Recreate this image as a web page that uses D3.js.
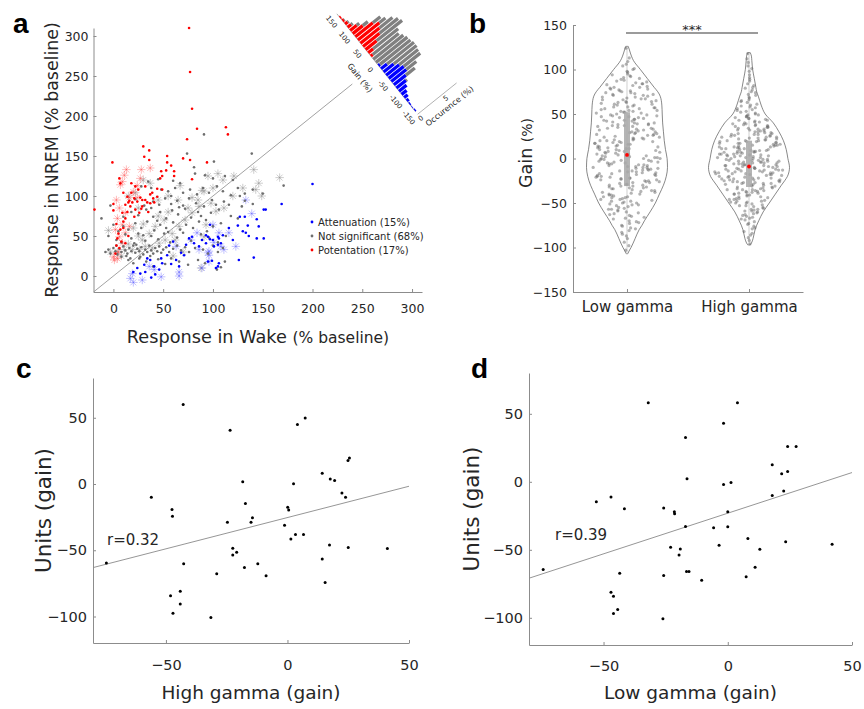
<!DOCTYPE html>
<html>
<head>
<meta charset="UTF-8">
<title>Gain figure</title>
<script src="https://cdn.jsdelivr.net/npm/d3@7"></script>
<style>
  body { margin: 0; background: #fff; }
  svg { font-family: "DejaVu Sans", sans-serif; }
</style>
</head>
<body>
<svg id="fig" width="864" height="709"></svg>
<script>

// ---------- panel a : wake vs NREM responses (% baseline) ----------
var aTicks = [0, 50, 100, 150, 200, 250, 300];

var potDots = [[76,310],[77,255],[79,209],[84,184],[74,171],[113,186],[115,177],[30,162],[36,157],[31,149],[36,145],[-1,142],
  [70,147],[77,145],[54,150],[54,142],[58,138],[48,131],[61,131],[53,132],[47,122],[49,125],[61,125],[79,121],[94,142],
  [6,122],[7,116],[18,116],[44,109],[49,108],[39,104],[37,102],[0,90],[14,99],[16,94],[19,92],[21,97],[27,98],[29,95],
  [32,95],[34,92],[37,91],[41,92],[44,99],[12,89],[17,87],[22,83],[26,79],[21,74],[15,92],[9,79],[24,93],[29,87],[12,72],
  [7,58],[4,47],[12,41],[2,28],[6,35],[-19,83],[0,82],[3,65],[10,68],[14,80],[18,104],[25,108],[32,112],[28,84],[35,80],
  [40,97],[10,60],[5,53],[8,43],[15,50],[3,38],[22,112],[10,104]];
var potStars = [[13,133],[28,133],[37,135],[11,126],[9,118],[7,114],[24,113],[27,122],[16,98],[24,98],[4,72],[9,64],[6,49],
  [12,54],[9,41],[1,20],[4,22],[16,62],[6,85],[12,79],[3,95],[20,105],[2,58],[5,30],[0,24]];
var nsDots = [[91,177],[74,153],[139,153],[101,143],[81,136],[171,113],[127,100],[-12,72],
  [35,118],[45,121],[60,119],[67,116],[82,128],[92,126],[100,122],[112,125],[120,120],
  [28,112],[38,110],[48,108],[55,106],[62,110],[70,104],[77,108],[84,102],[90,110],[96,104],[104,112],[110,106],[118,101],
  [125,110],[132,103],[140,108],[150,103],
  [22,96],[31,88],[40,93],[46,89],[52,97],[58,90],[64,94],[70,88],[76,97],[83,91],[91,87],[99,95],[103,89],[111,93],
  [116,89],[129,87],[132,94],[140,90],[58,100],[66,86],[-3,88],
  [18,80],[25,76],[33,83],[40,74],[47,80],[53,72],[59,82],[65,77],[72,84],[78,73],[85,80],[93,70],[98,79],[106,83],
  [118,75],[125,72],[10,74],[38,85],[88,75],
  [10,62],[15,58],[22,66],[28,60],[34,68],[41,57],[47,64],[53,60],[60,67],[67,58],[73,64],[80,60],[86,68],[94,56],
  [100,62],[108,66],[0,64],[5,56],[44,69],[55,55],
  [-5,50],[3,45],[12,52],[18,47],[25,53],[32,44],[38,50],[45,46],[51,53],[57,42],[64,48],[70,54],[78,44],[88,52],
  [96,48],[105,42],[113,50],[8,42],[21,41],[30,51],
  [-8,30],[-5,33],[-3,28],[0,35],[2,31],[4,27],[6,34],[8,30],[10,37],[12,32],[14,28],[16,35],[18,31],[20,38],[22,29],
  [24,34],[26,31],[28,36],[30,27],[32,33],[34,30],[36,38],[38,32],[40,28],[42,35],[44,31],[46,37],[48,29],[50,33],
  [53,36],[56,30],[60,34],[64,38],[68,32],[72,36],[76,30],[82,35],[90,33],[95,28],[100,38],[105,30],[110,35],[3,38],
  [13,25],[27,24],[37,25],[17,22],[23,39],
  [15,20],[20,16],[26,22],[33,18],[45,21],[52,15],[58,22],[66,18],[75,14],[85,20],[104,8],[108,11],[112,18],[92,16],
  [8,24],[40,12]];
var nsStars = [[-5,57],[-3,30],[4,30],[11,33],[19,33],[26,33],[32,37],[39,35],[46,41],[52,45],[59,53],[66,62],[72,70],
  [79,79],[86,87],[36,53],[42,62],[51,70],[29,45],[62,45],[37,116],[67,113],[89,107],[79,98],[91,106],[98,91],[103,81],
  [93,64],[111,85],[91,49],[141,133],[167,123],[146,116],[149,100],[143,108],[121,125],[110,120],[100,110],[120,100],
  [130,110],[30,120],[22,104],[15,100],[25,85],[45,95],[55,100],[65,95],[75,85],[85,95],[20,60],[30,65],[45,75],[55,80],
  [95,125],[105,128],[88,10],[60,25],[70,30],[15,40],[25,50],[8,25]];
var attDots = [[200,115],[169,90],[151,83],[153,83],[127,74],[132,74],[144,71],[125,63],[135,63],[146,62],[130,56],
  [133,54],[136,50],[144,47],[151,47],[97,64],[126,20],[141,23],[95,49],[97,46],[100,45],[105,49],[106,47],[110,51],
  [108,41],[101,37],[105,39],[93,41],[95,18],[99,19],[106,16],[105,12],[103,10],[24,10],[31,14],[34,22],[37,20],[32,5],
  [46,8],[41,12],[49,16],[54,26],[68,29],[73,39],[76,47],[79,49],[81,41],[89,45],[93,51],[86,37],[71,26],[63,20],[27,3],
  [20,5],[38,-2],[42,2],[48,22],[58,15],[66,12],[60,43],[56,38],[116,60],[120,45]];
var attStars = [[17,-3],[29,-5],[48,-1],[66,5],[89,10],[36,12],[19,3],[41,8],[86,33],[96,26],[63,37],[78,45],[84,54],
  [139,78],[116,54],[123,37],[106,54],[100,64],[101,42],[96,31],[95,29],[96,18],[108,37],[111,33],[133,95],[20,-8],[66,0]];
var legendA = ['Attenuation (15%)', 'Not significant (68%)', 'Potentation (17%)'];

// inset histogram of gain (%), bins of 10, occurrence (%)
var gainBins = [145,135,125,115,105,95,85,75,65,55,45,35,25,15,5,-5,-15,-25,-35,-45,-55,-65,-75,-85,-95,-105,-115,-125,-135,-145];
var occRed   = [0.2,0.3,0.5,0.7,1.3,2.0,3.5,4.3,3.8,3.3,2.2,1.0,0.4,0,0,0,0,0,0,0,0,0,0,0,0,0,0,0,0,0];
var occBlue  = [0,0,0,0,0,0,0,0,0,0,0,0,0,0,0,0.3,1.2,2.0,2.6,3.0,3.0,2.4,1.9,1.5,1.0,0.7,0.4,0.2,0.1,0.2];
var occGray  = [0,0.1,0.2,0.3,0.5,1.0,1.5,1.2,2.6,3.7,5.1,5.0,5.2,6.0,6.3,6.1,5.4,4.6,3.8,3.3,2.0,1.8,0.2,0,0,0,0,0,0,0];
var gainTicks = [150, 100, 50, 0, -50, -100, -150];

// ---------- panel b : violins ----------
var categories = ['Low gamma', 'High gamma'];
var bTicks = [-150, -100, -50, 0, 50, 100, 150];
var lowGamma = [124,
  113,109,106,
  104,101,100,98,97,95,
  94,93,92,91,90,89,88,87,86,85,
  84,84,83,82,81,80,80,79,78,78,77,76,76,75,
  74,74,73,72,72,71,71,70,69,69,68,67,67,66,66,65,
  64,64,63,63,62,61,61,60,60,59,58,58,57,57,56,56,55,
  54,54,53,53,52,52,51,51,50,49,49,48,48,47,47,46,46,45,
  44,44,43,43,42,42,41,40,40,39,39,38,38,37,37,36,36,35,
  34,34,33,33,32,32,31,30,30,29,29,28,28,27,27,26,26,25,
  24,24,23,23,22,22,21,21,20,20,19,19,18,18,17,17,16,16,15,
  14,14,13,13,12,12,11,11,10,10,9,9,8,8,7,7,6,6,5,5,
  4,4,3,3,2,2,1,1,0,0,0,-1,-1,-2,-2,-3,-3,-4,-4,-5,-5,
  -6,-6,-7,-7,-8,-8,-9,-9,-10,-10,-10,-11,-11,-12,-12,-13,-13,-14,-14,-15,-15,
  -16,-16,-17,-17,-18,-18,-19,-19,-20,-20,-21,-21,-22,-22,-23,-23,-24,-24,-25,-25,
  -26,-26,-27,-27,-28,-29,-29,-30,-30,-31,-31,-32,-32,-33,-33,-34,-34,-35,
  -36,-36,-37,-38,-38,-39,-40,-40,-41,-41,-42,-43,-43,-44,-44,-45,
  -46,-46,-47,-48,-48,-49,-50,-50,-51,-52,-52,-53,-54,-55,
  -56,-57,-57,-58,-59,-60,-61,-62,-63,-64,-65,
  -66,-67,-68,-70,-71,-72,-73,-75,
  -76,-78,-79,-81,-83,-85,
  -87,-90,-94,
  -98,-103];
var highGamma = [118,112,
  108,104,101,
  98,94,91,
  89,87,84,82,80,
  79,77,75,74,72,71,
  69,68,66,65,64,63,61,60,
  59,58,57,56,55,54,53,52,51,50,
  49,49,48,47,47,46,45,45,44,43,43,42,41,41,40,
  39,39,38,38,37,37,36,36,35,35,34,34,33,33,32,32,31,31,30,30,
  29,29,28,28,27,27,27,26,26,25,25,24,24,24,23,23,22,22,21,21,20,20,20,
  19,19,19,18,18,17,17,17,16,16,15,15,15,14,14,13,13,13,12,12,11,11,11,10,10,
  9,9,9,8,8,8,7,7,7,6,6,5,5,5,4,4,4,3,3,3,2,2,1,1,1,0,0,
  -1,-1,-1,-2,-2,-2,-3,-3,-3,-4,-4,-4,-5,-5,-5,-6,-6,-6,-7,-7,-7,-8,-8,-8,-9,-9,-9,-10,
  -10,-11,-11,-11,-12,-12,-12,-13,-13,-13,-14,-14,-14,-15,-15,-15,-16,-16,-16,-17,-17,-17,-18,-18,-18,-19,-19,-20,
  -20,-21,-21,-22,-22,-22,-23,-23,-24,-24,-24,-25,-25,-26,-26,-26,-27,-27,-28,-28,-28,-29,-29,-30,-30,
  -31,-31,-32,-32,-33,-33,-34,-34,-35,-35,-35,-36,-36,-37,-37,-38,-38,-39,-39,-40,-40,
  -41,-41,-42,-43,-43,-44,-45,-45,-46,-46,-47,-48,-48,-49,-49,-50,-50,
  -51,-52,-53,-53,-54,-55,-56,-57,-57,-58,-59,-59,-60,
  -61,-62,-63,-64,-65,-66,-67,-68,-69,
  -71,-73,-74,-76,-78,-79,
  -82,-84,-86,-89,
  -92,-96];
// violin outlines: [gain, relative density]
var lowProfile = [[126,0.03],[122,0.06],[115,0.11],[110,0.16],[100,0.33],[90,0.5],[80,0.67],[75,0.76],[70,0.82],[60,0.86],
  [50,0.87],[40,0.88],[30,0.9],[20,0.92],[10,0.95],[0,0.99],[-10,1.0],[-20,0.97],[-25,0.94],[-30,0.9],[-40,0.8],[-50,0.7],
  [-60,0.57],[-70,0.43],[-75,0.37],[-80,0.3],[-90,0.2],[-100,0.1],[-104,0.05],[-107,0.02]];
var highProfile = [[119,0.03],[115,0.06],[110,0.07],[100,0.09],[90,0.13],[80,0.17],[75,0.19],[70,0.23],[60,0.3],[50,0.4],
  [40,0.6],[30,0.74],[25,0.8],[20,0.85],[10,0.92],[0,0.96],[-10,1.0],[-20,0.95],[-25,0.88],[-30,0.8],[-40,0.65],[-50,0.5],
  [-60,0.35],[-70,0.24],[-75,0.19],[-80,0.15],[-90,0.1],[-95,0.06],[-97,0.03]];
var boxLow = { q1: -31, q3: 52, median: 4, min: -107, max: 126 };
var boxHigh = { q1: -32, q3: 20, median: -9, min: -97, max: 119 };

// ---------- panels c, d : unit gain vs LFP gain ----------
var cdXTicks = [-50, 0, 50];
var cdYTicks = [-100, -50, 0, 50];
var highVsUnits = [[-42.9,60],[-23.6,40.6],[4.1,45],[7.3,49.9],[25.5,19.7],[24.9,17.7],[14.3,8.2],[17.6,3.7],[19.4,2.7],
  [-18.4,1.7],[2.5,0.2],[-56,-10],[22.4,-6.7],[23.9,-10],[-47.5,-19.2],[-47.3,-24.4],[-17.3,-14.7],[0.1,-17.5],[0.5,-19.7],
  [-14.4,-25.4],[-15,-28.9],[-24.7,-28.9],[-1.2,-31.2],[3.3,-38.2],[6.6,-38.2],[1.4,-41.6],[17.3,-46.1],[25,-47.9],
  [41.1,-48.6],[-22.5,-48.4],[-22.5,-53.6],[-20.9,-51.6],[-74.5,-59.6],[-42.7,-60.1],[-12.2,-60.1],[14.3,-56.6],
  [-29.1,-67.8],[-17.7,-63.1],[-8.8,-69.3],[15.5,-74.3],[-48.1,-84.3],[-44.1,-81],[-44.1,-90.5],[-47.1,-97.5],[-31.5,-100.7]];
var lowVsUnits = [[-32,58.2],[3.9,58.2],[-1.7,43],[-17,32.5],[24.1,25.9],[27.5,25.9],[17.9,12.5],[21.7,5.9],[24.1,7.6],
  [-16.4,2.2],[-1.7,-2],[1.3,-0.5],[17.9,-10],[22.5,-6.8],[-47,-11.2],[-52.9,-14.7],[-41.6,-19.8],[-25.8,-19.3],[-21.5,-22],
  [-21.4,-23.5],[0,-22],[-17,-32.8],[-5.7,-33.7],[0,-33],[-23,-48.2],[-19.1,-49.4],[-19.6,-53.8],[-3.5,-46.7],[8.1,-41.6],
  [12.9,-49.6],[23.3,-44],[42,-46],[-74.3,-64.5],[-43.5,-67.2],[-25.8,-68.9],[-16.6,-66],[-15.6,-66],[-10.5,-72.4],
  [7.4,-69.9],[11,-62.8],[-47,-81.2],[-46,-84.1],[-44.3,-93.9],[-46,-96.8],[-26.1,-100.7]];
var fitHigh = [[-80,-63.1],[50,-1.7]];
var fitLow = [[-80,-70.9],[50,6.8]];
var rHigh = 'r=0.32';
var rLow = 'r=0.39';


var svg = d3.select('#fig');
var axisGray = '#8c8c8c';
var txt = '#262626';

function styleAxis(g, fs) {
  g.attr('font-family', null).attr('font-size', null);
  g.select('.domain').attr('stroke', axisGray).attr('stroke-width', 1);
  g.selectAll('.tick line').attr('stroke', axisGray);
  g.selectAll('.tick text').attr('fill', txt).style('font-size', fs + 'px');
}

function star(r) {
  var a = r * 0.707;
  return 'M0,' + (-r) + 'V' + r + 'M' + (-r) + ',0H' + r +
         'M' + (-a) + ',' + (-a) + 'L' + a + ',' + a + 'M' + (-a) + ',' + a + 'L' + a + ',' + (-a);
}

// panel letters
[['a', 13, 33], ['b', 469, 33], ['c', 16, 378], ['d', 471, 378]].forEach(function (l) {
  svg.append('text').attr('x', l[1]).attr('y', l[2]).text(l[0])
    .style('font-family', '"Liberation Sans", Arial, sans-serif')
    .style('font-weight', 'bold').style('font-size', '28px').attr('fill', '#000');
});

// ================= panel a =================
var xA = d3.scaleLinear().domain([-20, 310]).range([93.5, 422]);
var yA = d3.scaleLinear().domain([-20, 310]).range([292, 28]);
var gA = svg.append('g');

gA.append('g').attr('transform', 'translate(0,292)')
  .call(d3.axisBottom(xA).tickValues(aTicks).tickSizeInner(-3).tickSizeOuter(0).tickPadding(12))
  .call(styleAxis, 12.5);
gA.append('g').attr('transform', 'translate(93.5,0)')
  .call(d3.axisLeft(yA).tickValues(aTicks).tickSizeInner(-3).tickSizeOuter(0).tickPadding(5))
  .call(styleAxis, 12.5);

// identity line
gA.append('line')
  .attr('x1', xA(-20)).attr('y1', yA(-20)).attr('x2', xA(240)).attr('y2', yA(240))
  .attr('stroke', '#8a8a8a').attr('stroke-width', 0.8);

function drawStars(data, col, op) {
  gA.append('g').selectAll('path').data(data).enter().append('path')
    .attr('transform', function (d) { return 'translate(' + xA(d[0]) + ',' + yA(d[1]) + ')'; })
    .attr('d', star(4.2)).attr('fill', 'none').attr('stroke', col)
    .attr('stroke-width', 0.8).attr('stroke-opacity', op);
}
function drawDots(data, col) {
  gA.append('g').selectAll('circle').data(data).enter().append('circle')
    .attr('cx', function (d) { return xA(d[0]); }).attr('cy', function (d) { return yA(d[1]); })
    .attr('r', 1.3).attr('fill', col);
}
drawStars(nsStars, '#8c8c8c', 0.55);
drawStars(attStars, '#3b3bff', 0.4);
drawStars(potStars, '#ff2a2a', 0.4);
drawDots(nsDots, '#6e6e6e');
drawDots(attDots, '#0000ff');
drawDots(potDots, '#ff0000');

// legend
var legCols = ['#0000ff', '#6e6e6e', '#ff0000'];
legendA.forEach(function (s, i) {
  var y = 222 + i * 14;
  gA.append('circle').attr('cx', 312).attr('cy', y).attr('r', 1.4).attr('fill', legCols[i]);
  gA.append('text').attr('x', 318).attr('y', y + 3.6).text(s)
    .style('font-size', '10px').attr('fill', txt);
});

// axis titles
gA.append('text').attr('transform', 'translate(58,160) rotate(-90)').attr('text-anchor', 'middle')
  .style('font-size', '17.4px').attr('fill', txt).text('Response in NREM (% baseline)');
var wl = gA.append('text').attr('x', 258).attr('y', 343).attr('text-anchor', 'middle').attr('fill', txt);
wl.append('tspan').style('font-size', '17.7px').text('Response in Wake ');
wl.append('tspan').style('font-size', '15.5px').text('(% baseline)');

// inset histogram, gain axis perpendicular to the identity line
var angA = Math.atan2(yA(1) - yA(0), xA(1) - xA(0)) * 180 / Math.PI;
var gIn = gA.append('g')
  .attr('transform', 'translate(' + xA(265) + ',' + yA(265) + ') rotate(' + angA + ')');
var gainY = d3.scaleLinear().domain([-150, 150]).range([61.5, -61.5]);
var occX = d3.scaleLinear().domain([0, 5]).range([0, 32]);
var binH = Math.abs(gainY(10) - gainY(0));

gIn.append('line').attr('x1', 0).attr('x2', 0).attr('y1', gainY(157)).attr('y2', gainY(-150))
  .attr('stroke', '#9a9a9a').attr('stroke-width', 0.7);
gainBins.forEach(function (g, i) {
  var c = occRed[i] + occBlue[i];
  var col = occRed[i] > 0 ? '#ff0000' : '#0000ff';
  var y = gainY(g) - binH * 0.4;
  if (c > 0) {
    gIn.append('rect').attr('x', 0).attr('y', y).attr('width', occX(c)).attr('height', binH * 0.8).attr('fill', col);
  }
  if (occGray[i] > 0) {
    gIn.append('rect').attr('x', occX(c)).attr('y', y).attr('width', occX(occGray[i])).attr('height', binH * 0.8)
      .attr('fill', '#808080');
  }
});
gainTicks.forEach(function (g) {
  gIn.append('text').attr('transform', 'translate(-9,' + gainY(g) + ') rotate(90)')
    .attr('text-anchor', 'middle').attr('dy', '0.35em')
    .style('font-size', '7px').attr('fill', txt).text(g);
});
gIn.append('text').attr('transform', 'translate(-22,' + gainY(0) + ') rotate(90)')
  .attr('text-anchor', 'middle').attr('dy', '0.35em')
  .style('font-size', '8px').attr('fill', txt).text('Gain (%)');
gIn.append('line').attr('x1', 0).attr('x2', 50).attr('y1', 64.5).attr('y2', 64.5)
  .attr('stroke', '#9a9a9a').attr('stroke-width', 0.7);
[0, 5].forEach(function (v) {
  gIn.append('text').attr('x', occX(v)).attr('y', 72).attr('text-anchor', 'middle')
    .style('font-size', '7px').attr('fill', txt).text(v);
});
gIn.append('text').attr('x', 30).attr('y', 81).attr('text-anchor', 'middle')
  .style('font-size', '8px').attr('fill', txt).text('Occurence (%)');

// ================= panel b =================
var xB = d3.scaleLinear().domain([0.5574, 2.4426]).range([573, 803]);
var yB = d3.scaleLinear().domain([-150, 150]).range([292, 25]);
var wB = d3.scaleLinear().domain([0, 1]).range([0, 40.5]);
var gB = svg.append('g');

gB.append('g').attr('transform', 'translate(0,292)')
  .call(d3.axisBottom(xB).tickValues([1, 2]).tickFormat(function (d) { return categories[d - 1]; })
    .tickSizeInner(-3).tickSizeOuter(0).tickPadding(9))
  .call(styleAxis, 15);
gB.append('g').attr('transform', 'translate(573,0)')
  .call(d3.axisLeft(yB).tickValues(bTicks).tickSizeInner(-3).tickSizeOuter(0).tickPadding(6))
  .call(styleAxis, 12.5);

function jit(i, s) {
  var v = Math.sin(i * 12.9898 + s * 78.233) * 43758.5453;
  return (v - Math.floor(v)) * 2 - 1;
}

function violin(vals, prof, box, pos, seed) {
  var cx = xB(pos);
  var dens = d3.scaleLinear().domain(prof.map(function (d) { return d[0]; }))
    .range(prof.map(function (d) { return d[1]; })).clamp(true);
  var area = d3.area()
    .y(function (d) { return yB(d[0]); })
    .x0(function (d) { return cx - wB(d[1]); })
    .x1(function (d) { return cx + wB(d[1]); })
    .curve(d3.curveMonotoneY);
  gB.append('path').datum(prof).attr('d', area)
    .attr('fill', '#fff').attr('stroke', '#555').attr('stroke-width', 0.7);
  gB.append('line').attr('x1', cx).attr('x2', cx).attr('y1', yB(box.max)).attr('y2', yB(box.min))
    .attr('stroke', '#d0d0d0').attr('stroke-width', 1);
  gB.append('g').selectAll('circle').data(vals).enter().append('circle')
    .attr('cx', function (d, i) { return cx + jit(i, seed) * wB(dens(d)) * 0.88; })
    .attr('cy', function (d) { return yB(d); })
    .attr('r', 1.6).attr('fill', '#6a6a6a').attr('fill-opacity', 0.5);
  gB.append('rect').attr('x', cx - 3).attr('width', 6)
    .attr('y', yB(box.q3)).attr('height', yB(box.q1) - yB(box.q3))
    .attr('fill', '#a8a8a8').attr('fill-opacity', 0.85);
  gB.append('circle').attr('cx', cx).attr('cy', yB(box.median)).attr('r', 1.9).attr('fill', '#ff0000');
}
violin(lowGamma, lowProfile, boxLow, 1, 1);
violin(highGamma, highProfile, boxHigh, 2, 2);

// significance bar
gB.append('line').attr('x1', 626).attr('x2', 758).attr('y1', 33).attr('y2', 33)
  .attr('stroke', '#7a7a7a').attr('stroke-width', 1.4);
gB.append('text').attr('x', 692).attr('y', 33.5).attr('text-anchor', 'middle')
  .style('font-size', '13px').attr('fill', txt).text('***');

var gl = gB.append('text').attr('transform', 'translate(532,153) rotate(-90)').attr('text-anchor', 'middle')
  .attr('fill', txt);
gl.append('tspan').style('font-size', '17.5px').text('Gain ');
gl.append('tspan').style('font-size', '14px').text('(%)');

// ================= panels c, d =================
function corrPanel(opt) {
  var x = d3.scaleLinear().domain([-80, 50]).range(opt.xr);
  var y = d3.scaleLinear().domain([-120, 80]).range(opt.yr);
  var g = svg.append('g');
  g.append('g').attr('transform', 'translate(0,' + opt.yr[0] + ')')
    .call(d3.axisBottom(x).tickValues(cdXTicks).tickSizeInner(-3).tickSizeOuter(0).tickPadding(opt.xpad))
    .call(styleAxis, 14.5);
  g.append('g').attr('transform', 'translate(' + opt.xr[0] + ',0)')
    .call(d3.axisLeft(y).tickValues(cdYTicks).tickSizeInner(-3).tickSizeOuter(0).tickPadding(6))
    .call(styleAxis, 14.5);
  g.append('line')
    .attr('x1', x(opt.fit[0][0])).attr('y1', y(opt.fit[0][1]))
    .attr('x2', x(opt.fit[1][0])).attr('y2', y(opt.fit[1][1]))
    .attr('stroke', '#8a8a8a').attr('stroke-width', 0.9);
  g.append('g').selectAll('circle').data(opt.data).enter().append('circle')
    .attr('cx', function (d) { return x(d[0]); }).attr('cy', function (d) { return y(d[1]); })
    .attr('r', 1.5).attr('fill', '#000');
  g.append('text').attr('x', opt.rx).attr('y', opt.ry).style('font-size', '15px').attr('fill', txt).text(opt.r);
  g.append('text').attr('transform', 'translate(' + opt.ylx + ',' + ((opt.yr[0] + opt.yr[1]) / 2) + ') rotate(-90)')
    .attr('text-anchor', 'middle').style('font-size', '21.5px').attr('fill', txt).text('Units (gain)');
  g.append('text').attr('x', (opt.xr[0] + opt.xr[1]) / 2).attr('y', 699).attr('text-anchor', 'middle')
    .style('font-size', '18.5px').attr('fill', txt).text(opt.xlabel);
}
corrPanel({ xr: [93, 409], yr: [643, 378], data: highVsUnits, fit: fitHigh, r: rHigh, rx: 107, ry: 545,
  ylx: 51, xpad: 17, xlabel: 'High gamma (gain)' });
corrPanel({ xr: [529, 852], yr: [645, 373], data: lowVsUnits, fit: fitLow, r: rLow, rx: 555, ry: 540,
  ylx: 479, xpad: 16, xlabel: 'Low gamma (gain)' });

</script>
</body>
</html>
